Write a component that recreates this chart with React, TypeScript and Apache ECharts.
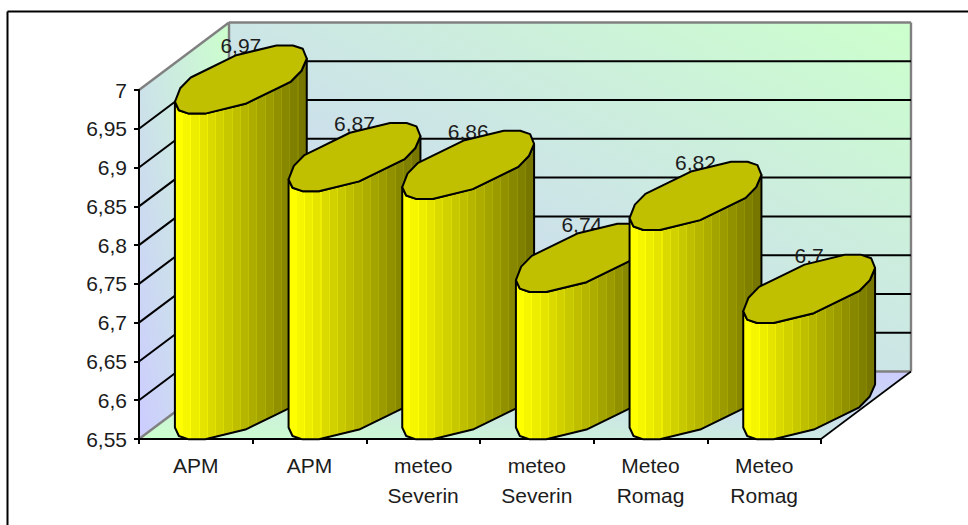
import React, { useEffect, useRef } from "react";
import * as echarts from "echarts";

// Chart values
const categories = ["APM", "APM", "meteo\nSeverin", "meteo\nSeverin", "Meteo\nRomag", "Meteo\nRomag"];
const values = [6.97, 6.87, 6.86, 6.74, 6.82, 6.7];
const gridValues = [6.6, 6.65, 6.7, 6.75, 6.8, 6.85, 6.9, 6.95];
const axisMin = 6.55;
const axisMax = 7;
const axisStep = 0.05;

// Oblique projection of the 3D box: how far the back plane is shifted from the front one
const DEPTH_X = 90;
const DEPTH_Y = 67.5;

// Cross-section polygon of a cylinder, as fractions of its half width and half height.
// The front half runs from the left silhouette point to the right one;
// the back half is the same profile mirrored through the centre.
const FRONT_PROFILE = [
  [-1, 0.66],
  [-0.94, 0.91],
  [-0.79, 1.01],
  [-0.54, 1.01],
  [0.07, 0.72],
  [0.52, 0.29],
  [0.76, 0.06],
  [0.92, -0.26],
  [1, -0.62],
];
const BACK_PROFILE = FRONT_PROFILE.slice(1, -1).map(([u, v]) => [-u, -v]);
const HALF_WIDTH_RATIO = 0.58;

const FONT_FAMILY = '"Liberation Sans", Arial, sans-serif';
const FONT_SIZE = 21;
const TEXT = "#1c1c1c";

const decimal = (v: number) => String(+v.toFixed(2)).replace(".", ",");

const wallLight = "#ccffcc";
const wallDark = "#ccccff";

// Banded shading running across the cylinder body
function bodyGradient() {
  const bands = 16;
  const stops: { offset: number; color: string }[] = [];
  for (let i = 0; i < bands; i++) {
    const c = Math.round(255 - (i * (255 - 118)) / (bands - 1));
    const hex = c.toString(16).padStart(2, "0");
    const lighter = Math.min(255, c + 10).toString(16).padStart(2, "0");
    const start = i / bands;
    const end = (i + 1) / bands;
    stops.push({ offset: start, color: `#${hex}${hex}00` });
    stops.push({ offset: end - 0.008, color: `#${hex}${hex}00` });
    stops.push({ offset: end - 0.008, color: `#${lighter}${lighter}00` });
    stops.push({ offset: end, color: `#${lighter}${lighter}00` });
  }
  return new echarts.graphic.LinearGradient(0, 0, 1, 0, stops);
}

function renderWalls(params: any, api: any) {
  const cs = params.coordSys;
  const yTop = api.coord([0, axisMax])[1];
  const yBase = api.coord([0, axisMin])[1];
  const x0 = cs.x;
  const x1 = cs.x + cs.width;
  const grey = { stroke: "#808080", lineWidth: 2.4, fill: "none" };
  const poly = (points: number[][], fill: any) => ({
    type: "polygon",
    silent: true,
    shape: { points },
    style: { fill, stroke: "none" },
  });
  const line = (a: number[], b: number[], style: any) => ({
    type: "line",
    silent: true,
    shape: { x1: a[0], y1: a[1], x2: b[0], y2: b[1] },
    style,
  });
  const bx = DEPTH_X;
  const by = DEPTH_Y;
  return {
    type: "group",
    children: [
      poly(
        [[x0 + bx, yTop - by], [x1 + bx, yTop - by], [x1 + bx, yBase - by], [x0 + bx, yBase - by]],
        new echarts.graphic.LinearGradient(0, 1, 1, 0, [
          { offset: 0, color: wallDark },
          { offset: 1, color: wallLight },
        ])
      ),
      poly(
        [[x0, yTop], [x0 + bx, yTop - by], [x0 + bx, yBase - by], [x0, yBase]],
        new echarts.graphic.LinearGradient(1, 0, 0, 1, [
          { offset: 0, color: wallLight },
          { offset: 1, color: wallDark },
        ])
      ),
      poly(
        [[x0, yBase], [x1, yBase], [x1 + bx, yBase - by], [x0 + bx, yBase - by]],
        new echarts.graphic.LinearGradient(0, 1, 1, 0, [
          { offset: 0, color: wallLight },
          { offset: 1, color: wallDark },
        ])
      ),
      line([x0, yTop], [x0 + bx, yTop - by], grey),
      line([x0 + bx, yTop - by], [x1 + bx, yTop - by], grey),
      line([x1 + bx, yTop - by], [x1 + bx, yBase - by], grey),
      line([x0 + bx, yTop - by], [x0 + bx, yBase - by], grey),
      line([x0 + bx, yBase - by], [x1 + bx, yBase - by], grey),
      line([x0, yBase], [x0 + bx, yBase - by], grey),
      line([x1, yBase], [x1 + bx, yBase - by], { stroke: "#000", lineWidth: 1.6, fill: "none" }),
    ],
  };
}

// One gridline: along the side wall, then across the back wall
function renderGridLine(params: any, api: any) {
  const cs = params.coordSys;
  const y = api.coord([0, api.value(1)])[1];
  const x0 = cs.x;
  const x1 = cs.x + cs.width;
  return {
    type: "polyline",
    silent: true,
    shape: {
      points: [
        [x0, y],
        [x0 + DEPTH_X, y - DEPTH_Y],
        [x1 + DEPTH_X, y - DEPTH_Y],
      ],
    },
    style: { stroke: "#000", lineWidth: 2, fill: "none" },
  };
}

function renderCylinder(_params: any, api: any) {
  const cat = api.value(0);
  const val = api.value(1);
  const [fx, fyTop] = api.coord([cat, val]);
  const fyBase = api.coord([cat, axisMin])[1];
  const band = api.size([1, 0])[0];
  const halfW = band * HALF_WIDTH_RATIO;
  const hy = DEPTH_Y / 2;
  const cx = fx + DEPTH_X / 2;
  const topY = fyTop - hy;
  const baseY = fyBase - hy;
  const at = ([u, v]: number[], y0: number) => [cx + u * halfW, y0 + v * hy];
  const front = FRONT_PROFILE.map((p) => at(p, topY));
  const frontBase = FRONT_PROFILE.map((p) => at(p, baseY)).reverse();
  const back = BACK_PROFILE.map((p) => at(p, topY));
  const outline = { stroke: "#000", lineWidth: 2, lineJoin: "round" };
  return {
    type: "group",
    children: [
      {
        type: "text",
        silent: true,
        style: {
          text: decimal(val),
          x: cx,
          y: topY - hy,
          align: "center",
          verticalAlign: "middle",
          font: `${FONT_SIZE}px ${FONT_FAMILY}`,
          fill: TEXT,
        },
      },
      {
        type: "polygon",
        silent: true,
        shape: { points: [...front, ...frontBase] },
        style: { fill: bodyGradient(), ...outline },
      },
      {
        type: "polygon",
        silent: true,
        shape: { points: [...front, ...back] },
        style: { fill: "#c0c000", ...outline },
      },
    ],
  };
}

export default function App() {
  const ref = useRef<HTMLDivElement>(null);

  useEffect(() => {
    const chart = echarts.init(ref.current!, null, { renderer: "svg" });
    chart.setOption({
      animation: false,
      backgroundColor: "#ffffff",
      grid: { left: 139, right: 147, top: 90, bottom: 86, containLabel: false },
      xAxis: {
        type: "category",
        data: categories,
        z: 3,
        axisLine: { lineStyle: { color: "#000", width: 2 } },
        axisTick: { show: true, alignWithLabel: false, length: 5, lineStyle: { color: "#000", width: 2 } },
        axisLabel: {
          interval: 0,
          margin: 11,
          fontFamily: FONT_FAMILY,
          fontSize: FONT_SIZE,
          lineHeight: 30,
          color: TEXT,
        },
        splitLine: { show: false },
      },
      yAxis: {
        type: "value",
        min: axisMin,
        max: axisMax,
        interval: axisStep,
        z: 3,
        axisLine: { show: true, lineStyle: { color: "#000", width: 2 } },
        axisTick: { show: true, length: 5, lineStyle: { color: "#000", width: 2 } },
        axisLabel: {
          margin: 12,
          fontFamily: FONT_FAMILY,
          fontSize: FONT_SIZE,
          color: TEXT,
          formatter: (v: number) => decimal(v),
        },
        splitLine: { show: false },
      },
      graphic: [
        // Chart frame: its top and left edges run to the page boundary
        {
          type: "line",
          silent: true,
          shape: { x1: 7.5, y1: 11.5, x2: 968, y2: 11.5 },
          style: { stroke: "#000", lineWidth: 2 },
        },
        {
          type: "line",
          silent: true,
          shape: { x1: 7.5, y1: 11.5, x2: 7.5, y2: 525 },
          style: { stroke: "#000", lineWidth: 2 },
        },
      ],
      series: [
        {
          type: "custom",
          coordinateSystem: "cartesian2d",
          z: 1,
          silent: true,
          data: [[0, axisMin]],
          renderItem: renderWalls,
        },
        {
          type: "custom",
          coordinateSystem: "cartesian2d",
          z: 2,
          silent: true,
          data: gridValues.map((v) => [0, v]),
          renderItem: renderGridLine,
        },
        {
          type: "custom",
          coordinateSystem: "cartesian2d",
          z: 4,
          silent: true,
          clip: false,
          data: values.map((v, i) => [i, v]),
          renderItem: renderCylinder,
        },
      ],
    });
    return () => chart.dispose();
  }, []);

  return (
    <div
      ref={ref}
      style={{ position: "fixed", left: 0, top: 0, width: 968, height: 525, background: "#fff" }}
    />
  );
}
